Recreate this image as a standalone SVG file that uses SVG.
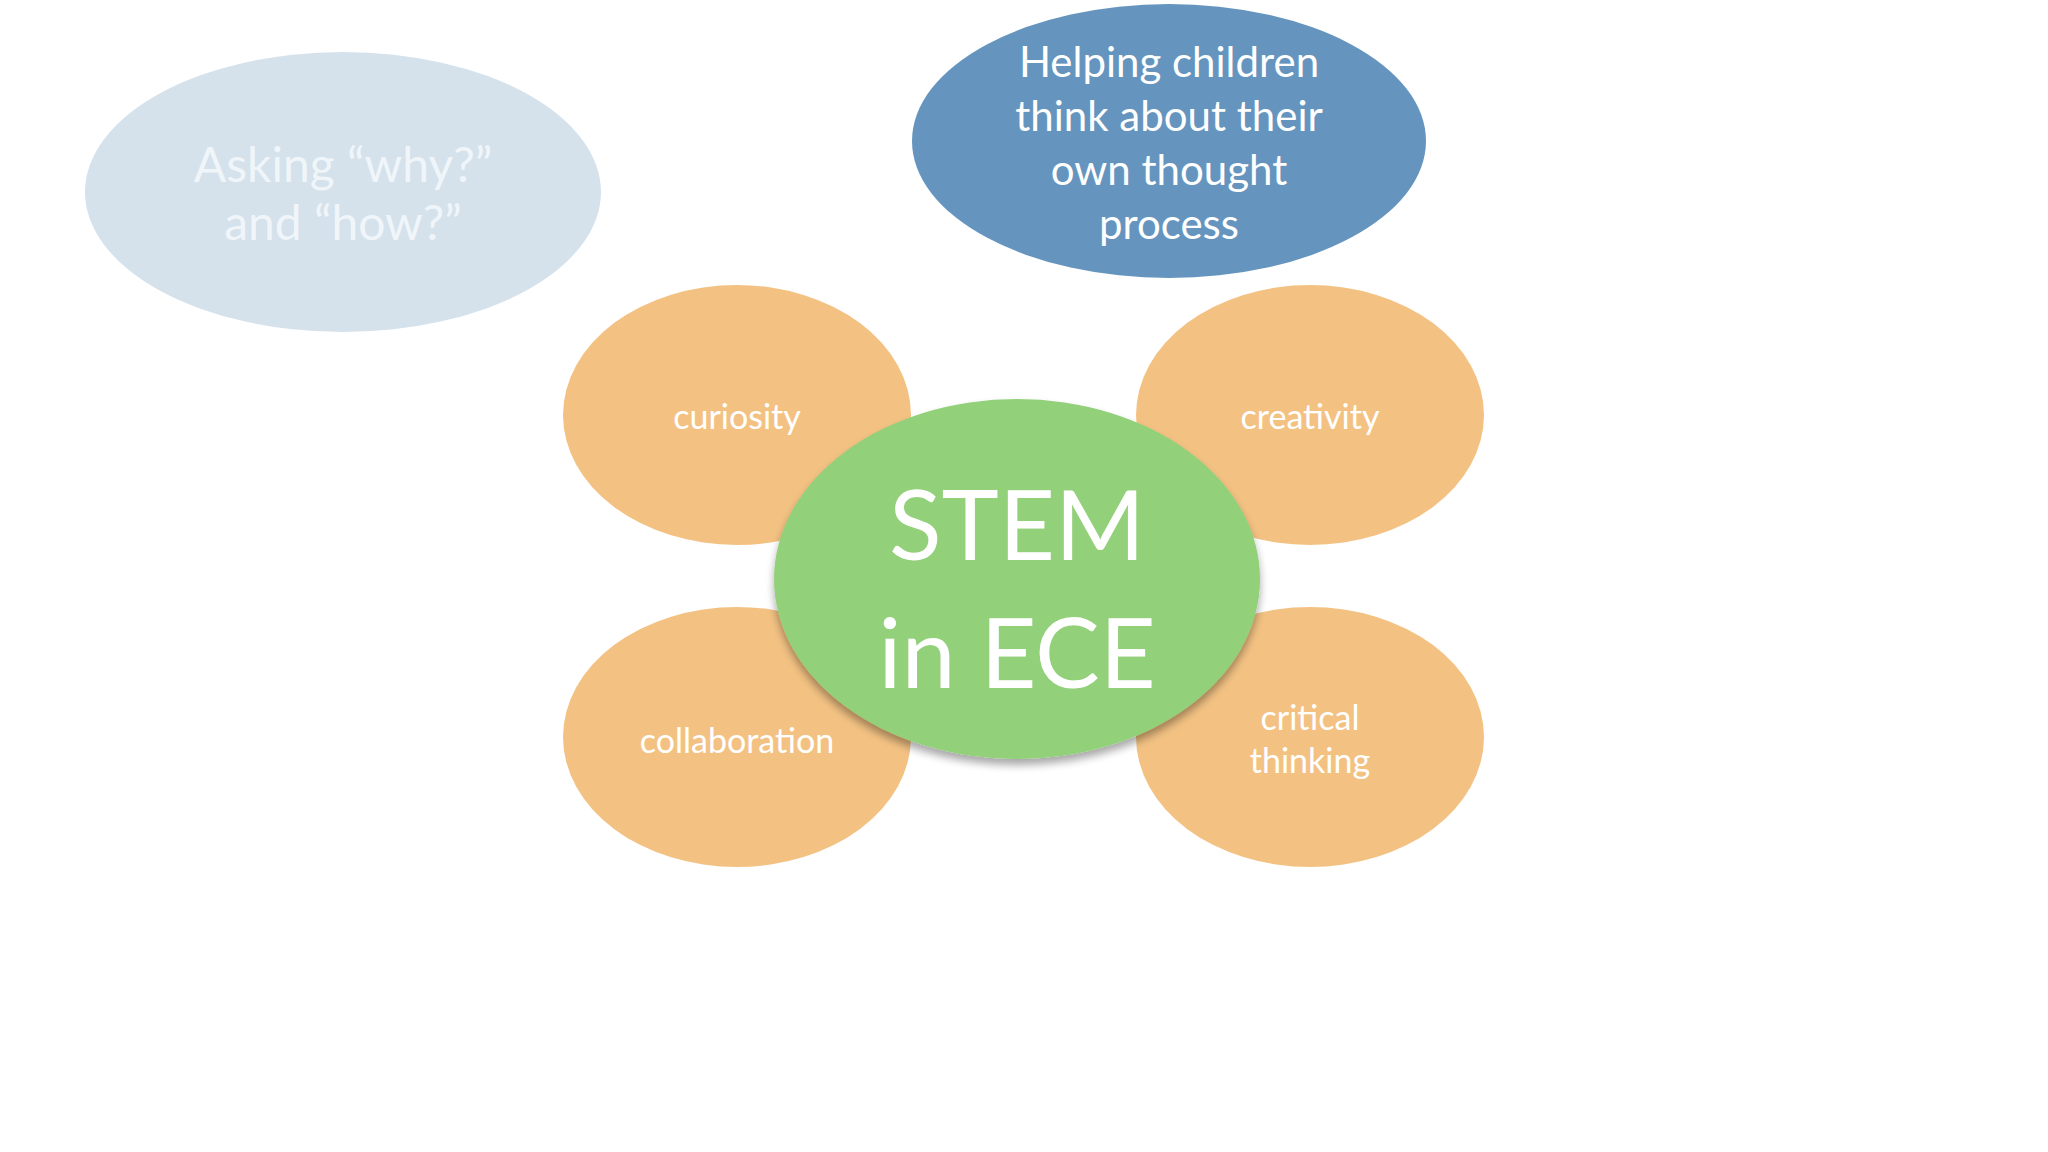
<svg xmlns="http://www.w3.org/2000/svg" width="2048" height="1152" viewBox="0 0 2048 1152">
<defs>
<filter id="sh" x="-20%" y="-20%" width="140%" height="150%">
<feGaussianBlur in="SourceAlpha" stdDeviation="4"/>
<feOffset dx="0" dy="6" result="b"/>
<feComponentTransfer><feFuncA type="linear" slope="0.35"/></feComponentTransfer>
<feMerge><feMergeNode/><feMergeNode in="SourceGraphic"/></feMerge>
</filter>
</defs>
<style>
text{font-family:Lato,"Open Sans","Liberation Sans",sans-serif;fill:#ffffff;text-anchor:middle}
.o{fill:#F3C283}
.ot{font-size:34px}
.bt{font-size:42px}
.lt{font-size:48px;fill:#F0F5F9}
</style>
<rect width="2048" height="1152" fill="#ffffff"/>
<g id="connectors"/>
<g id="node-why">
<ellipse cx="343" cy="192" rx="258" ry="140" fill="#D5E2EC"/>
<text class="lt" x="343" y="182">Asking “why?”</text>
<text class="lt" x="343" y="240">and “how?”</text>
</g>
<g id="node-helping">
<ellipse cx="1169" cy="141" rx="257" ry="137" fill="#6595BE"/>
<text class="bt" x="1169" y="77">Helping children</text>
<text class="bt" x="1169" y="131">think about their</text>
<text class="bt" x="1169" y="185">own thought</text>
<text class="bt" x="1169" y="239">process</text>
</g>
<g id="node-curiosity">
<ellipse class="o" cx="737" cy="415" rx="174" ry="130"/>
<text class="ot" x="737" y="429">curiosity</text>
</g>
<g id="node-creativity">
<ellipse class="o" cx="1310" cy="415" rx="174" ry="130"/>
<text class="ot" x="1310" y="429">creativity</text>
</g>
<g id="node-collaboration">
<ellipse class="o" cx="737" cy="737" rx="174" ry="130"/>
<text class="ot" x="737" y="753">collaboration</text>
</g>
<g id="node-critical">
<ellipse class="o" cx="1310" cy="737" rx="174" ry="130"/>
<text class="ot" x="1310" y="730">critical</text>
<text class="ot" x="1310" y="773">thinking</text>
</g>
<g id="node-stem">
<ellipse cx="1017" cy="579" rx="243" ry="180" fill="#92D07A" filter="url(#sh)"/>
<text x="1017" y="560" font-size="97">STEM</text>
<text x="1017" y="688" font-size="97">in ECE</text>
</g>
</svg>
